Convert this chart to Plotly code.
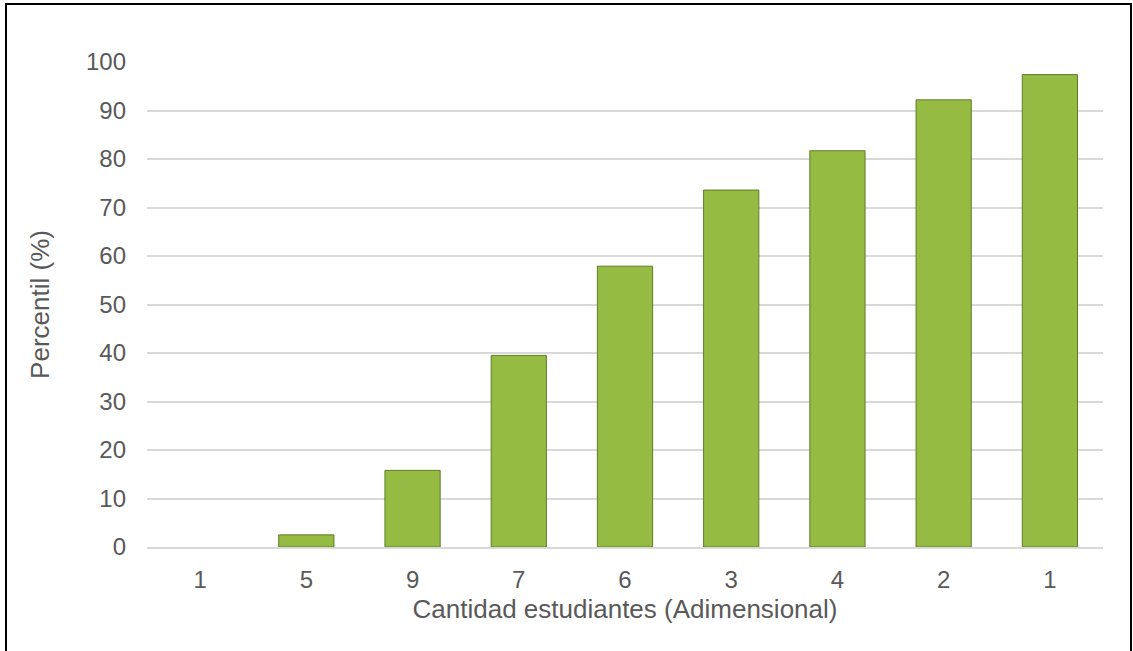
import plotly.graph_objects as go

# Student-count categories along the x axis (labels repeat, so bars sit at numeric slots)
categorias = ["1", "5", "9", "7", "6", "3", "4", "2", "1"]
percentil = [0, 2.5, 15.8, 39.5, 57.9, 73.6, 81.7, 92.2, 97.4]
posiciones = list(range(len(categorias)))
ticks_y = [0, 10, 20, 30, 40, 50, 60, 70, 80, 90, 100]

W, H = 1133, 651
L, R, T, B = 147, 30, 62, 104
pw, ph = W - L - R, H - T - B

fuente_ticks = dict(family="Liberation Sans, Arial, sans-serif", size=24, color="#595959")
fuente_titulo = dict(family="Liberation Sans, Arial, sans-serif", size=26, color="#595959")

# no outline on empty bars
bordes = [0 if v == 0 else 1 for v in percentil]

fig = go.Figure()
fig.add_trace(go.Bar(
    x=posiciones,
    y=percentil,
    width=0.52,
    marker=dict(color="#95BB43", line=dict(color="#5F7B27", width=bordes)),
    hoverinfo="skip",
))

# outer frame around the chart area
def px_to_paper_x(px):
    return (px - L) / pw

def px_to_paper_y(py):
    return (H - B - py) / ph

fig.add_shape(
    type="rect", xref="paper", yref="paper",
    x0=px_to_paper_x(6), x1=px_to_paper_x(1131),
    y0=px_to_paper_y(700), y1=px_to_paper_y(4),
    line=dict(color="#000000", width=2), fillcolor="rgba(0,0,0,0)",
    layer="above",
)

fig.update_layout(
    width=W, height=H,
    margin=dict(l=L, r=R, t=T, b=B),
    paper_bgcolor="white", plot_bgcolor="white",
    font=fuente_ticks,
    showlegend=False,
    bargap=0.48,
    xaxis=dict(
        tickmode="array", tickvals=posiciones, ticktext=categorias,
        range=[-0.5, len(categorias) - 0.5],
        showgrid=False, zeroline=False,
        showline=True, linecolor="#D9D9D9", linewidth=2,
        ticks="", ticklabelstandoff=10,
        tickfont=fuente_ticks,
        title=dict(text="Cantidad estudiantes (Adimensional)", standoff=8, font=fuente_titulo),
    ),
    yaxis=dict(
        range=[0, 100], tickmode="array", tickvals=ticks_y,
        showgrid=True, gridcolor="#D9D9D9", gridwidth=1.5,
        zeroline=False, showline=False, ticks="",
        ticklabelstandoff=20,
        tickfont=fuente_ticks,
        title=dict(text="Percentil (%)", standoff=28, font=fuente_titulo),
    ),
)

fig.write_html("out.html")
